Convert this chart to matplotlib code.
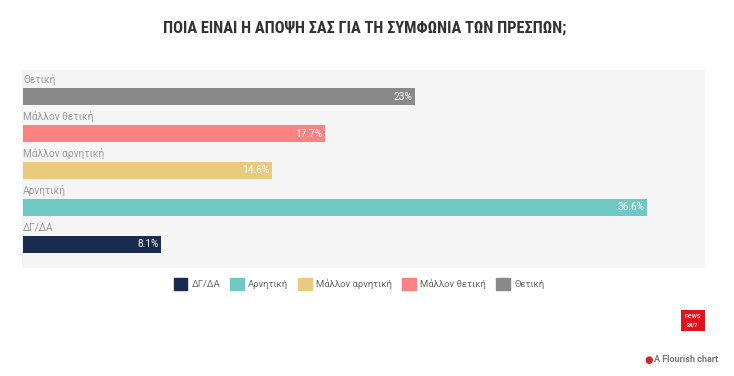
import matplotlib
matplotlib.use("Agg")
import matplotlib.pyplot as plt
from matplotlib.patches import Rectangle

categories = ["Θετική", "Μάλλον θετική", "Μάλλον αρνητική", "Αρνητική", "ΔΓ/ΔΑ"]
values = [23, 17.7, 14.6, 36.6, 8.1]
value_labels = ["23%", "17.7%", "14.6%", "36.6%", "8.1%"]
colors = ["#898989", "#fd8383", "#eacb7e", "#6fc8c3", "#192b4f"]
legend_order = ["ΔΓ/ΔΑ", "Αρνητική", "Μάλλον αρνητική", "Μάλλον θετική", "Θετική"]
title = "ΠΟΙΑ ΕΙΝΑΙ Η ΑΠΟΨΗ ΣΑΣ ΓΙΑ ΤΗ ΣΥΜΦΩΝΙΑ ΤΩΝ ΠΡΕΣΠΩΝ;"

plt.rcParams['font.family'] = ['Roboto', 'DejaVu Sans']

W, H = 734, 376
fig = plt.figure(figsize=(W/100, H/100), dpi=100)
fig.patch.set_facecolor("white")

def fx(px): return px / W
def fy(py): return 1 - py / H

# panel
ax = fig.add_axes([fx(22), fy(268), fx(705) - fx(22), fy(70) - fy(268)])
ax.set_facecolor("#f5f5f5")
ax.set_xlim(-0.06, 40)
ax.set_ylim(4.64, -0.72)
for s in ax.spines.values():
    s.set_visible(False)
ax.set_xticks([]); ax.set_yticks([])

ypos = list(range(len(categories)))
ax.barh(ypos, values, height=0.46, color=colors, left=0)
for i, (c, v, lab) in enumerate(zip(categories, values, value_labels)):
    ax.text(0, i - 0.45, c, ha="left", va="center", fontsize=7.3, color="#9a9a9a")
    ax.text(v - 0.15, i, lab, ha="right", va="center", fontsize=7.3, color="white")

fig.text(fx(365), fy(28), title, ha="center", va="center", fontsize=11.8,
         fontweight="bold", color="#333333", family=["Roboto Condensed", "Roboto", "DejaVu Sans"])

# legend
handles = [Rectangle((0, 0), 1, 1, color=colors[categories.index(n)]) for n in legend_order]
leg = fig.legend(handles, legend_order, loc="center", bbox_to_anchor=(fx(359), fy(284)),
                 ncol=5, frameon=False, fontsize=6.8, handlelength=1.45, handleheight=1.7,
                 columnspacing=1.05, handletextpad=0.45, labelcolor="#666666")

# logo
logo = fig.add_axes([fx(681), fy(331), fx(24), fx(24) * W / H * (21/24)])
logo.set_facecolor("#e0121b")
logo.set_xticks([]); logo.set_yticks([])
for s in logo.spines.values():
    s.set_visible(False)
logo.text(0.5, 0.68, "news", color="white", fontsize=5, ha="center", va="center", transform=logo.transAxes)
logo.text(0.5, 0.3, "24/7", color="white", fontsize=4, ha="center", va="center", transform=logo.transAxes,
          fontweight="bold")

fig.text(fx(649), fy(360), "●", color="#d4202a", fontsize=7, ha="center", va="center")
fig.text(fx(654), fy(360), "A Flourish chart", color="#777777", fontsize=6.5, ha="left", va="center",
         fontweight="bold")

fig.savefig("out.png", dpi=100, facecolor="white")
